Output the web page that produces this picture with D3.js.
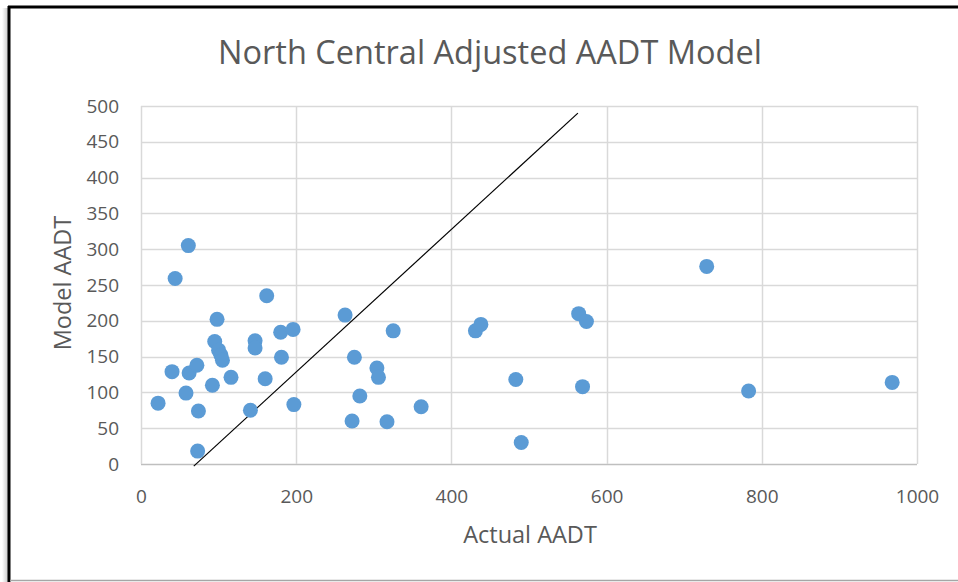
<!DOCTYPE html>
<html>
<head>
<meta charset="utf-8">
<script src="https://cdn.jsdelivr.net/npm/d3@7"></script>
<style>
  html, body { margin: 0; padding: 0; background: #fff; }
  svg { display: block; }
  text { font-family: "Open Sans", "Liberation Sans", sans-serif; fill: #595959; }
</style>
</head>
<body>
<svg id="chart" width="958" height="582"></svg>
<script>
// ---- data ----
const chartTitle = "North Central Adjusted AADT Model";
const xAxisTitle = "Actual AADT";
const yAxisTitle = "Model AADT";
const xTicks = [0, 200, 400, 600, 800, 1000];
const yTicks = [0, 50, 100, 150, 200, 250, 300, 350, 400, 450, 500];
const actualAADT = [
  22, 40, 44, 61, 58, 62, 72, 73, 74, 92,
  95, 98, 100, 103, 105, 116, 141, 147, 147, 160,
  162, 180, 181, 196, 197,
  263, 325, 275, 304, 306, 282, 272, 317, 361, 431,
  438, 483, 490, 564, 574, 569,
  729, 783, 968
];
const modelAADT = [
  85, 129, 259, 305, 99, 127, 138, 18, 74, 110,
  171, 202, 159, 152, 145, 121, 75, 172, 162, 119,
  235, 184, 149, 188, 83,
  208, 186, 149, 134, 121, 95, 60, 59, 80, 186,
  195, 118, 30, 210, 199, 108,
  276, 102, 114
];
const refLineX = [68, 563];
const refLineY = [-3, 490];

// ---- layout ----
const svg = d3.select("#chart");
const plot = { left: 141, right: 917, top: 106, bottom: 464 };

const x = d3.scaleLinear().domain([0, 1000]).range([plot.left, plot.right]);
const y = d3.scaleLinear().domain([0, 500]).range([plot.bottom, plot.top]);

// frame with shadow
const defs = svg.append("defs");
const grad = defs.append("linearGradient").attr("id", "shadow").attr("x1", "0").attr("x2", "1");
grad.append("stop").attr("offset", "0").attr("stop-color", "#fff");
grad.append("stop").attr("offset", "1").attr("stop-color", "#c8c8c8");
svg.append("rect").attr("x", 2).attr("y", 8).attr("width", 6).attr("height", 574).attr("fill", "url(#shadow)");
svg.append("line").attr("x1", 9).attr("x2", 9).attr("y1", 6).attr("y2", 582)
  .attr("stroke", "#000").attr("stroke-width", 3);
svg.append("line").attr("x1", 8).attr("x2", 958).attr("y1", 7).attr("y2", 7)
  .attr("stroke", "#000").attr("stroke-width", 3);
svg.append("line").attr("x1", 10).attr("x2", 958).attr("y1", 580.5).attr("y2", 580.5)
  .attr("stroke", "#a6a6a6").attr("stroke-width", 1.5);

// gridlines
svg.append("g").selectAll("line.h").data(yTicks).join("line")
  .attr("x1", plot.left).attr("x2", plot.right)
  .attr("y1", d => Math.round(y(d)) + 0.5).attr("y2", d => Math.round(y(d)) + 0.5)
  .attr("stroke", d => d === 0 ? "#bfbfbf" : "#d9d9d9").attr("stroke-width", 1.5);
svg.append("g").selectAll("line.v").data(xTicks).join("line")
  .attr("y1", plot.top).attr("y2", plot.bottom)
  .attr("x1", d => Math.round(x(d)) + 0.5).attr("x2", d => Math.round(x(d)) + 0.5)
  .attr("stroke", "#d9d9d9").attr("stroke-width", 1.5);

// axes labels via d3 axes (no lines)
const xAxis = svg.append("g").attr("transform", `translate(0,${plot.bottom})`)
  .call(d3.axisBottom(x).tickValues(xTicks).tickFormat(d3.format("d")).tickSize(0).tickPadding(26));
const yAxis = svg.append("g").attr("transform", `translate(${plot.left},0)`)
  .call(d3.axisLeft(y).tickValues(yTicks).tickFormat(d3.format("d")).tickSize(0).tickPadding(22));
[xAxis, yAxis].forEach(a => {
  a.select(".domain").remove();
  a.selectAll("text").attr("fill", "#595959").style("font-size", "19px")
    .style("font-family", '"Open Sans", "Liberation Sans", sans-serif');
});

// reference line
svg.append("line")
  .attr("x1", x(refLineX[0])).attr("y1", y(refLineY[0]))
  .attr("x2", x(refLineX[1])).attr("y2", y(refLineY[1]))
  .attr("stroke", "#000").attr("stroke-width", 1.2);

// points
const pts = actualAADT.map((v, i) => ({ a: v, m: modelAADT[i] }));
svg.append("g").selectAll("circle").data(pts).join("circle")
  .attr("cx", d => x(d.a)).attr("cy", d => y(d.m)).attr("r", 7.5)
  .attr("fill", "#5b9bd5");

// titles
svg.append("text").attr("x", 490).attr("y", 64).attr("text-anchor", "middle")
  .style("font-size", "32.5px").text(chartTitle);
svg.append("text").attr("x", 530).attr("y", 543).attr("text-anchor", "middle")
  .style("font-size", "23.5px").text(xAxisTitle);
svg.append("text").attr("transform", "translate(71,283) rotate(-90)").attr("text-anchor", "middle")
  .style("font-size", "23.5px").text(yAxisTitle);
</script>
</body>
</html>
